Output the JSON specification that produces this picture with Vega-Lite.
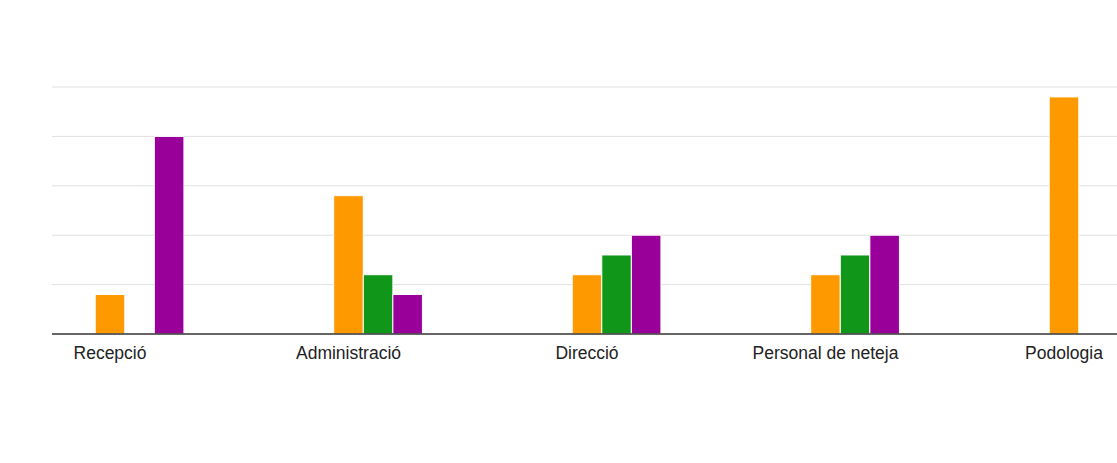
{
  "$schema": "https://vega.github.io/schema/vega-lite/v6.json",
  "autosize": "none",
  "width": 1065,
  "height": 247,
  "padding": {"left": 52, "top": 87, "right": 0, "bottom": 129},
  "background": "white",
  "config": {"view": {"stroke": null}, "font": "Liberation Sans"},
  "datasets": {
    "valors": [
      {"categoria": "Recepció", "serie": "1", "valor": 0},
      {"categoria": "Recepció", "serie": "2", "valor": 0},
      {"categoria": "Recepció", "serie": "3", "valor": 2},
      {"categoria": "Recepció", "serie": "4", "valor": 0},
      {"categoria": "Recepció", "serie": "5", "valor": 10},
      {"categoria": "Administració", "serie": "1", "valor": 0},
      {"categoria": "Administració", "serie": "2", "valor": 0},
      {"categoria": "Administració", "serie": "3", "valor": 7},
      {"categoria": "Administració", "serie": "4", "valor": 3},
      {"categoria": "Administració", "serie": "5", "valor": 2},
      {"categoria": "Direcció", "serie": "1", "valor": 0},
      {"categoria": "Direcció", "serie": "2", "valor": 0},
      {"categoria": "Direcció", "serie": "3", "valor": 3},
      {"categoria": "Direcció", "serie": "4", "valor": 4},
      {"categoria": "Direcció", "serie": "5", "valor": 5},
      {"categoria": "Personal de neteja", "serie": "1", "valor": 0},
      {"categoria": "Personal de neteja", "serie": "2", "valor": 0},
      {"categoria": "Personal de neteja", "serie": "3", "valor": 3},
      {"categoria": "Personal de neteja", "serie": "4", "valor": 4},
      {"categoria": "Personal de neteja", "serie": "5", "valor": 5},
      {"categoria": "Podologia", "serie": "1", "valor": 0},
      {"categoria": "Podologia", "serie": "2", "valor": 0},
      {"categoria": "Podologia", "serie": "3", "valor": 12},
      {"categoria": "Podologia", "serie": "4", "valor": 0},
      {"categoria": "Podologia", "serie": "5", "valor": 0}
    ],
    "linies": [
      {"nivell": 2.5, "tipus": "grid"},
      {"nivell": 5, "tipus": "grid"},
      {"nivell": 7.5, "tipus": "grid"},
      {"nivell": 10, "tipus": "grid"},
      {"nivell": 12.5, "tipus": "grid"},
      {"nivell": 0, "tipus": "base"}
    ]
  },
  "layer": [
    {
      "data": {"name": "linies"},
      "transform": [{"filter": "datum.tipus == 'grid'"}],
      "mark": {"type": "rule", "color": "#e0e0e0", "strokeWidth": 1},
      "encoding": {
        "y": {"field": "nivell", "type": "quantitative", "scale": {"domain": [0, 12.5], "nice": false}, "axis": null}
      }
    },
    {
      "data": {"name": "valors"},
      "mark": {"type": "bar", "clip": true, "stroke": "white", "strokeWidth": 1},
      "encoding": {
        "x": {
          "field": "categoria",
          "type": "nominal",
          "sort": null,
          "scale": {"range": [-61.25, 1131.25], "paddingInner": 0.38, "paddingOuter": 0.19},
          "axis": {
            "title": null,
            "labelAngle": 0,
            "ticks": false,
            "domain": false,
            "labelFontSize": 17.5,
            "labelColor": "#222222",
            "labelPadding": 10,
            "labelFont": "Liberation Sans"
          }
        },
        "xOffset": {"field": "serie", "type": "nominal", "scale": {"paddingInner": 0, "paddingOuter": 0}},
        "y": {
          "field": "valor",
          "type": "quantitative",
          "scale": {"domain": [0, 12.5], "nice": false},
          "axis": null
        },
        "color": {
          "field": "serie",
          "type": "nominal",
          "scale": {"domain": ["1", "2", "3", "4", "5"], "range": ["#3366cc", "#dc3912", "#ff9900", "#109618", "#990099"]},
          "legend": null
        }
      }
    },
    {
      "data": {"name": "linies"},
      "transform": [{"filter": "datum.tipus == 'base'"}],
      "mark": {"type": "rule", "color": "#333333", "strokeWidth": 1.5},
      "encoding": {
        "y": {"field": "nivell", "type": "quantitative"}
      }
    }
  ]
}
